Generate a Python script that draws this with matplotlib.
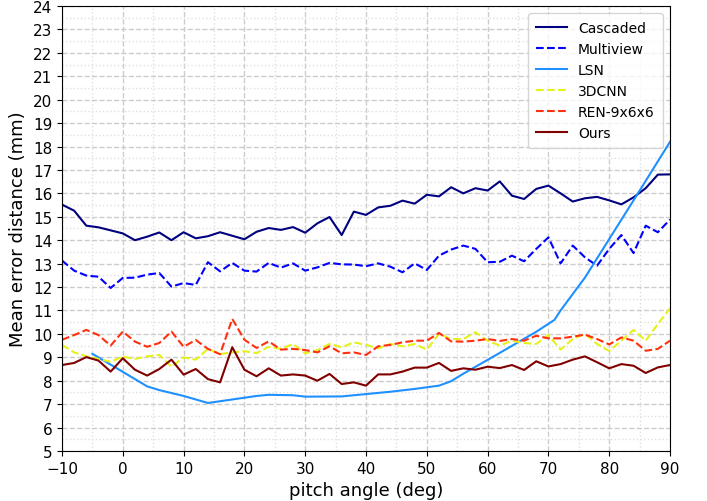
import matplotlib
matplotlib.use('Agg')
import matplotlib.pyplot as plt
import numpy as np
from matplotlib.ticker import MultipleLocator

# pitch angles, every 2 deg
angles = list(range(-10, 91, 2))

cascaded = [15.52, 15.26, 14.62, 14.55, 14.42, 14.29, 14.0, 14.15, 14.33, 14.0,
            14.34, 14.08, 14.17, 14.34, 14.19, 14.04, 14.36, 14.52, 14.44, 14.56,
            14.32, 14.72, 14.99, 14.22, 15.22, 15.08, 15.4, 15.47, 15.69, 15.56,
            15.94, 15.87, 16.26, 16.0, 16.22, 16.12, 16.51, 15.9, 15.76, 16.19,
            16.33, 16.0, 15.65, 15.79, 15.85, 15.7, 15.53, 15.83, 16.22, 16.8, 16.81]

multiview = [13.13, 12.7, 12.49, 12.44, 11.96, 12.39, 12.4, 12.53, 12.6, 12.02,
             12.17, 12.09, 13.06, 12.67, 13.03, 12.7, 12.66, 13.03, 12.83, 13.01,
             12.7, 12.84, 13.03, 12.97, 12.96, 12.89, 13.01, 12.87, 12.63, 13.01,
             12.73, 13.34, 13.6, 13.77, 13.63, 13.06, 13.08, 13.34, 13.1, 13.63,
             14.12, 13.01, 13.77, 13.27, 12.91, 13.63, 14.22, 13.45, 14.62, 14.34, 14.88]

cnn3d = [9.53, 9.21, 9.04, 8.93, 8.81, 9.03, 8.93, 9.04, 9.1, 8.6,
         9.0, 8.9, 9.36, 9.14, 9.21, 9.26, 9.18, 9.45, 9.36, 9.57,
         9.17, 9.31, 9.57, 9.43, 9.64, 9.53, 9.38, 9.57, 9.47, 9.57,
         9.33, 10.0, 9.78, 9.78, 10.07, 9.71, 9.5, 9.71, 9.61, 9.57,
         9.95, 9.33, 9.78, 10.0, 9.57, 9.27, 9.71, 10.17, 9.71, 10.42, 11.09]

ren = [9.75, 9.95, 10.17, 9.95, 9.5, 10.1, 9.67, 9.45, 9.61, 10.1,
       9.45, 9.74, 9.36, 9.13, 10.64, 9.75, 9.4, 9.68, 9.33, 9.36,
       9.31, 9.21, 9.47, 9.17, 9.21, 9.1, 9.47, 9.53, 9.64, 9.71,
       9.71, 10.04, 9.68, 9.67, 9.71, 9.78, 9.7, 9.78, 9.71, 9.92,
       9.81, 9.81, 9.88, 9.97, 9.78, 9.55, 9.85, 9.71, 9.28, 9.36, 9.71]

ours = [8.67, 8.76, 9.01, 8.86, 8.39, 8.96, 8.47, 8.22, 8.5, 8.9,
        8.26, 8.5, 8.07, 7.93, 9.43, 8.47, 8.19, 8.53, 8.22, 8.27,
        8.22, 8.0, 8.29, 7.86, 7.93, 7.79, 8.27, 8.27, 8.39, 8.56,
        8.56, 8.76, 8.42, 8.53, 8.47, 8.6, 8.54, 8.67, 8.46, 8.83,
        8.61, 8.71, 8.9, 9.04, 8.79, 8.53, 8.71, 8.64, 8.33, 8.57, 8.67]

# LSN has its own (sparser) angles
lsn_angles = [-5, 0, 4, 6, 10, 14, 18, 22, 24, 28, 30, 36, 40, 44, 48, 52, 54, 56,
              60, 64, 68, 71, 72, 74, 76, 80, 84, 90]
lsn = [9.15, 8.38, 7.76, 7.6, 7.35, 7.05, 7.2, 7.35, 7.4, 7.38, 7.32, 7.33, 7.43,
       7.53, 7.65, 7.79, 7.98, 8.3, 8.89, 9.49, 10.09, 10.6, 11.0, 11.7, 12.4,
       14.05, 15.7, 18.2]

fig = plt.figure(figsize=(7.07, 5.02), dpi=100)
ax = fig.add_axes([0.0877, 0.0996, 0.86, 0.8865])

ax.plot(angles, cascaded, color='#000080', linestyle='-', linewidth=1.5, label='Cascaded')
ax.plot(angles, multiview, color='#0000ff', linestyle='--', linewidth=1.5, label='Multiview')
ax.plot(lsn_angles, lsn, color='#1e90ff', linestyle='-', linewidth=1.5, label='LSN')
ax.plot(angles, cnn3d, color='#e5f21a', linestyle='--', linewidth=1.5, label='3DCNN')
ax.plot(angles, ren, color='#ff3010', linestyle='--', linewidth=1.5, label='REN-9x6x6')
ax.plot(angles, ours, color='#800000', linestyle='-', linewidth=1.5, label='Ours')

ax.set_xlim(-10, 90)
ax.set_ylim(5, 24)
ax.xaxis.set_major_locator(MultipleLocator(10))
ax.xaxis.set_minor_locator(MultipleLocator(5))
ax.yaxis.set_major_locator(MultipleLocator(1))
ax.yaxis.set_minor_locator(MultipleLocator(0.5))
ax.tick_params(which='minor', length=0)
ax.tick_params(labelsize=11)

ax.set_axisbelow(True)
ax.grid(which='major', color='#cccccc', linestyle='--', linewidth=1.0)
ax.grid(which='minor', color='#e0e0e0', linestyle=':', linewidth=1.0)

ax.set_xlabel('pitch angle (deg)', fontsize=13)
ax.set_ylabel('Mean error distance (mm)', fontsize=13)

ax.legend(loc='upper right', fontsize=10, borderpad=0.6, handlelength=2.2,
          borderaxespad=0.5)

fig.savefig('out.png', dpi=100)
